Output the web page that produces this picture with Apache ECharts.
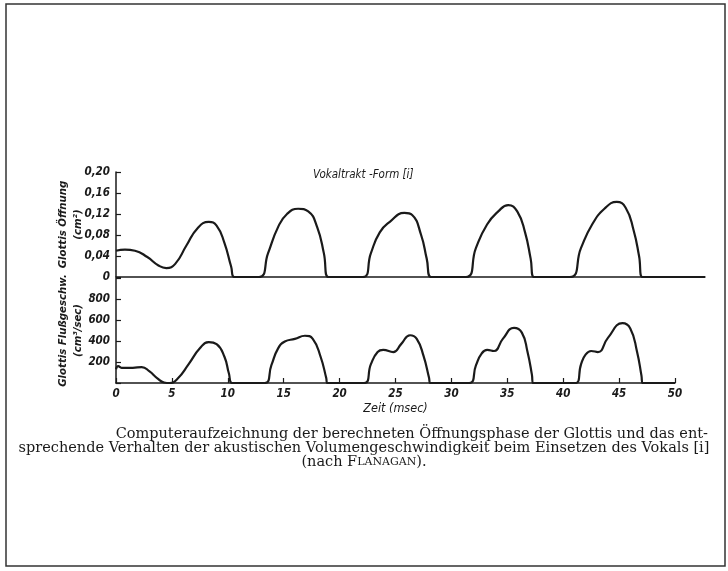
<!DOCTYPE html>
<html>
<head>
<meta charset="utf-8">
<script src="https://cdn.jsdelivr.net/npm/echarts@6/dist/echarts.min.js"></script>
<style>
  html, body { margin: 0; padding: 0; background: #fff; }
  #chart { width: 728px; height: 571px; }
</style>
</head>
<body>
<div id="chart"></div>
<script>
// Glottis-Öffnung (cm²) über der Zeit (msec)
const oeffnungZeit = [0, 0.8, 1.7, 2.8, 3.8, 4.5, 5.3, 6.3, 7.3, 8.3, 9.0, 9.7, 10.3, 10.6,
  12.8, 13.6, 14.5, 15.3, 16.3, 17.2, 18.0, 18.6, 19.0,
  22.1, 22.8, 23.6, 24.5, 25.8, 26.5, 27.3, 27.8, 28.2,
  31.3, 32.2, 33.2, 34.2, 35.1, 35.9, 36.6, 37.1, 37.4,
  40.6, 41.6, 42.6, 43.7, 44.8, 45.6, 46.3, 46.8, 47.1, 52.7];
const oeffnungWert = [0.050, 0.052, 0.050, 0.038, 0.022, 0.017, 0.025, 0.060, 0.093, 0.105, 0.098, 0.065, 0.020, 0,
  0, 0.045, 0.095, 0.120, 0.130, 0.125, 0.095, 0.045, 0,
  0, 0.045, 0.085, 0.105, 0.122, 0.118, 0.080, 0.035, 0,
  0, 0.055, 0.100, 0.125, 0.137, 0.125, 0.085, 0.035, 0,
  0, 0.055, 0.100, 0.130, 0.143, 0.132, 0.090, 0.040, 0, 0];

// Glottis-Flußgeschwindigkeit (cm³/sec)
const flussZeit = [0, 0.2, 0.5, 1.5, 2.3, 3.0, 3.7, 4.3, 4.8, 5.5, 6.5, 7.5, 8.3, 9.0, 9.7, 10.1, 10.4,
  13.3, 13.9, 14.5, 15.1, 16.0, 16.9, 17.6, 18.3, 18.8, 18.9,
  22.2, 22.8, 23.4, 23.9, 24.8, 25.5, 26.3, 26.9, 27.5, 28.0, 28.1,
  31.6, 32.2, 32.7, 33.2, 33.8, 34.6, 35.6, 36.3, 36.8, 37.2, 37.3,
  41.1, 41.6, 42.0, 42.5, 43.1, 44.0, 45.3, 46.0, 46.6, 47.0, 47.1, 50];
const flussWert = [130, 160, 145, 145, 152, 110, 45, 5, 0, 40, 180, 330, 390, 370, 250, 90, 0,
  0, 170, 330, 395, 420, 450, 420, 250, 50, 0,
  0, 180, 295, 315, 295, 370, 455, 420, 260, 50, 0,
  0, 170, 280, 315, 305, 420, 525, 480, 300, 80, 0,
  0, 180, 270, 305, 295, 430, 570, 520, 300, 70, 0, 0];

const xTicks = [0, 5, 10, 15, 20, 25, 30, 35, 40, 45, 50];
const oeffnungTicks = [0, 0.04, 0.08, 0.12, 0.16, 0.20];
const flussTicks = [200, 400, 600, 800];

const ink = '#1a1a1a';
const achsenFont = {
  fontFamily: 'DejaVu Sans Condensed',
  fontStyle: 'italic',
  fontWeight: 'bold',
  fontSize: 11.5,
  color: ink
};
const captionFont = { fontFamily: 'DejaVu Serif', fontSize: 14.5, fill: ink };

const paare = (xs, ys) => xs.map((x, i) => [x, ys[i]]);

const option = {
  backgroundColor: '#fff',
  animation: false,
  title: {
    text: 'Vokaltrakt -Form [i]',
    left: 308,
    top: 164,
    textStyle: Object.assign({}, achsenFont, { fontWeight: 'normal' })
  },
  grid: [
    { left: 116, top: 172, width: 589, height: 105 },
    { left: 116, top: 278, width: 559, height: 105 }
  ],
  xAxis: [
    {
      gridIndex: 0, type: 'value', min: 0, max: 52.7,
      axisLine: { lineStyle: { color: ink, width: 1.5 } },
      axisTick: { show: false }, axisLabel: { show: false }, splitLine: { show: false }
    },
    {
      gridIndex: 1, type: 'value', min: 0, max: 50, interval: 5,
      name: 'Zeit (msec)', nameLocation: 'middle', nameGap: 19,
      nameTextStyle: Object.assign({}, achsenFont, { fontWeight: 'normal', fontSize: 12.5 }),
      axisLine: { lineStyle: { color: ink, width: 1.5 } },
      axisTick: { inside: true, length: 5, lineStyle: { color: ink, width: 1.2 } },
      axisLabel: Object.assign({}, achsenFont, {
        margin: 5,
        formatter: v => xTicks.includes(v) ? String(v) : ''
      }),
      splitLine: { show: false }
    }
  ],
  yAxis: [
    {
      gridIndex: 0, type: 'value', min: 0, max: 0.2, interval: 0.04,
      name: 'Glottis Öffnung\n(cm²)', nameLocation: 'middle', nameGap: 30, nameRotate: 90,
      nameMoveOverlap: false,
      nameTextStyle: Object.assign({}, achsenFont, { fontSize: 11.3, lineHeight: 15 }),
      axisLine: { show: true, lineStyle: { color: ink, width: 1.5 } },
      axisTick: { inside: true, length: 5, lineStyle: { color: ink, width: 1.2 } },
      axisLabel: Object.assign({}, achsenFont, {
        margin: 6,
        formatter: v => {
          const t = oeffnungTicks.find(k => Math.abs(k - v) < 1e-6);
          if (t === undefined) return '';
          return t === 0 ? '0' : t.toFixed(2).replace('.', ',');
        }
      }),
      splitLine: { show: false }
    },
    {
      gridIndex: 1, type: 'value', min: 0, max: 1000, interval: 200,
      name: 'Glottis Flußgeschw.\n(cm³/sec)', nameLocation: 'middle', nameGap: 30, nameRotate: 90,
      nameMoveOverlap: false,
      nameTextStyle: Object.assign({}, achsenFont, { fontSize: 11.3, lineHeight: 15 }),
      axisLine: { show: true, lineStyle: { color: ink, width: 1.5 } },
      axisTick: { inside: true, length: 5, lineStyle: { color: ink, width: 1.2 } },
      axisLabel: Object.assign({}, achsenFont, {
        margin: 6,
        formatter: v => flussTicks.includes(v) ? String(v) : ''
      }),
      splitLine: { show: false }
    }
  ],
  series: [
    {
      type: 'line', xAxisIndex: 0, yAxisIndex: 0,
      data: paare(oeffnungZeit, oeffnungWert),
      smooth: 0.5, showSymbol: false,
      lineStyle: { color: ink, width: 2.2 }
    },
    {
      type: 'line', xAxisIndex: 1, yAxisIndex: 1,
      data: paare(flussZeit, flussWert),
      smooth: 0.5, showSymbol: false,
      lineStyle: { color: ink, width: 2.2 }
    }
  ],
  graphic: [
    {
      type: 'rect', silent: true,
      shape: { x: 6, y: 4, width: 719, height: 562 },
      style: { fill: 'none', stroke: '#333', lineWidth: 1.5 }
    },
    {
      type: 'text', right: 20, top: 427, silent: true,
      style: Object.assign({
        text: 'Computeraufzeichnung der berechneten Öffnungsphase der Glottis und das ent-'
      }, captionFont)
    },
    {
      type: 'text', left: 'center', top: 441, silent: true,
      style: Object.assign({
        text: 'sprechende Verhalten der akustischen Volumengeschwindigkeit beim Einsetzen des Vokals [i]'
      }, captionFont)
    },
    {
      type: 'text', left: 'center', top: 455, silent: true,
      style: Object.assign({
        text: '(nach {a|F}{b|LANAGAN}).',
        rich: {
          a: { fontFamily: 'DejaVu Serif', fontSize: 14.5 },
          b: { fontFamily: 'DejaVu Serif', fontSize: 11 }
        }
      }, captionFont)
    }
  ]
};

const chart = echarts.init(document.getElementById('chart'));
chart.setOption(option);
</script>
</body>
</html>
